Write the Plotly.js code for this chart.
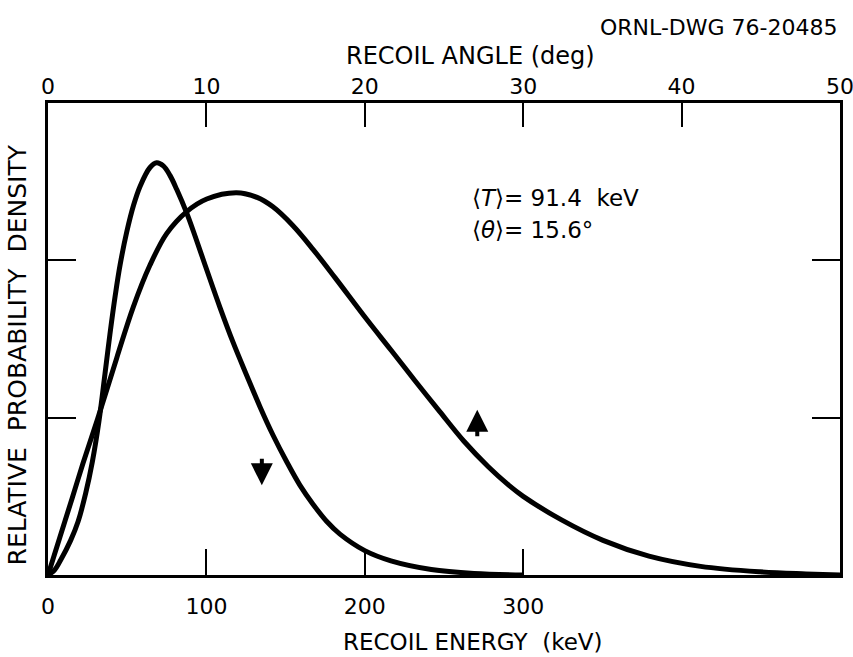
<!DOCTYPE html>
<html>
<head>
<meta charset="utf-8">
<script src="https://cdn.plot.ly/plotly-3.0.1.min.js"></script>
<style>
  html, body { margin: 0; padding: 0; background: #ffffff; }
  #chart { width: 853px; height: 657px; }
</style>
</head>
<body>
<div id="chart"></div>
<script>
// Recoil energy spectrum (keV) - the narrow curve, read against the bottom axis
const energyKeV = [0, 4, 8, 14.3, 19, 23.8, 28, 32.2, 36, 39.1, 42.5, 45.5, 49.7, 54, 58.1, 64.4,
  68.6, 72.8, 77, 81.3, 87.6, 93, 100.2, 108.6, 116.8, 125.4, 133.8, 142, 150.7, 159.1,
  167.3, 176, 184.3, 200, 216.5, 242, 269, 300];
const energyDensity = [0, 0.03, 0.095, 0.22, 0.34, 0.52, 0.72, 0.98, 1.28, 1.53, 1.78, 1.97, 2.18, 2.35, 2.47, 2.59,
  2.62, 2.60, 2.54, 2.45, 2.30, 2.15, 1.94, 1.70, 1.48, 1.27, 1.07, 0.89, 0.72, 0.57,
  0.45, 0.34, 0.26, 0.155, 0.09, 0.035, 0.01, 0];

// Recoil angle distribution (deg) - the broad curve, read against the top axis
const angleDeg = [0, 0.75, 1.53, 2.21, 3.22, 4.34, 5.37, 6.44, 7.49, 8.76, 10.02, 11.9, 13.2,
  14.2, 15.47, 16.73, 18.12, 20.08, 21.65, 23.17, 24.72, 26.26, 27.78, 29.1, 30.0, 32.42,
  35.04, 37.94, 41.2, 44.95, 47.85, 50];
const angleDensity = [0, 0.24, 0.49, 0.71, 1.02, 1.38, 1.70, 1.97, 2.17, 2.31, 2.39, 2.43, 2.40,
  2.34, 2.22, 2.07, 1.89, 1.63, 1.43, 1.235, 1.04, 0.85, 0.69, 0.57, 0.50, 0.35,
  0.22, 0.12, 0.055, 0.02, 0.007, 0];

// Axis ticks
const energyTicks = [0, 100, 200, 300];
const angleTicks = [0, 10, 20, 30, 40, 50];
const densityTicks = [1, 2];

const FONT = 'DejaVu Sans, Verdana, sans-serif';
const INK = '#000000';

const curveLine = { color: INK, width: 5, shape: 'spline', smoothing: 1 };

const traces = [
  { x: energyKeV, y: energyDensity, xaxis: 'x', yaxis: 'y',
    type: 'scatter', mode: 'lines', line: curveLine, hoverinfo: 'skip' },
  { x: angleDeg, y: angleDensity, xaxis: 'x2', yaxis: 'y',
    type: 'scatter', mode: 'lines', line: curveLine, hoverinfo: 'skip' }
];

const tickFont = { family: FONT, size: 22, color: INK };

const layout = {
  width: 853, height: 657,
  margin: { l: 48, r: 13, t: 103, b: 82 },
  paper_bgcolor: '#ffffff', plot_bgcolor: '#ffffff',
  showlegend: false,
  xaxis: {
    range: [0, 500], tickvals: energyTicks, ticktext: energyTicks.map(String),
    ticks: 'inside', ticklen: 26, tickwidth: 2, tickcolor: INK,
    showline: true, linewidth: 3, linecolor: INK, mirror: true,
    showgrid: false, zeroline: false, tickfont: tickFont, ticklabelstandoff: 10,
    ticklabeloverflow: 'allow'
  },
  xaxis2: {
    range: [0, 50], overlaying: 'x', side: 'top', anchor: 'y',
    tickvals: angleTicks, ticktext: angleTicks.map(String),
    ticks: 'inside', ticklen: 24, tickwidth: 2, tickcolor: INK,
    showline: false, showgrid: false, zeroline: false,
    tickfont: tickFont, ticklabelstandoff: 4, ticklabeloverflow: 'allow'
  },
  yaxis: {
    range: [0, 3], tickvals: densityTicks, showticklabels: false,
    ticks: 'inside', ticklen: 28, tickwidth: 2, tickcolor: INK,
    showline: true, linewidth: 3, linecolor: INK, mirror: 'ticks',
    showgrid: false, zeroline: false
  },
  annotations: [
    { text: 'RECOIL ENERGY  (keV)', xref: 'paper', yref: 'paper', x: 0.537, y: -0.143,
      xanchor: 'center', yanchor: 'middle', showarrow: false,
      font: { family: FONT, size: 23, color: INK } },
    { text: 'RECOIL ANGLE (deg)', xref: 'paper', yref: 'paper', x: 0.534, y: 1.1,
      xanchor: 'center', yanchor: 'middle', showarrow: false,
      font: { family: FONT, size: 24, color: INK } },
    { text: 'RELATIVE  PROBABILITY  DENSITY', xref: 'paper', yref: 'paper', x: -0.038, y: 0.467,
      xanchor: 'center', yanchor: 'middle', textangle: -90, showarrow: false,
      font: { family: FONT, size: 25, color: INK } },
    { text: 'ORNL-DWG 76-20485', xref: 'paper', yref: 'paper', x: 1.0, y: 1.16,
      xanchor: 'right', yanchor: 'middle', showarrow: false,
      font: { family: FONT, size: 22, color: INK } },
    { text: '⟨<i>T</i>⟩= 91.4  keV', xref: 'paper', yref: 'paper', x: 0.533, y: 0.799,
      xanchor: 'left', yanchor: 'middle', showarrow: false,
      font: { family: FONT, size: 23, color: INK } },
    { text: '⟨<i>θ</i>⟩= 15.6°', xref: 'paper', yref: 'paper', x: 0.533, y: 0.731,
      xanchor: 'left', yanchor: 'middle', showarrow: false,
      font: { family: FONT, size: 23, color: INK } },
    // arrows pointing each curve to the axis it is read against
    { text: '', xref: 'x', yref: 'y', x: 135, y: 0.57, ax: 0, ay: -28,
      showarrow: true, arrowhead: 2, arrowsize: 1.1, arrowwidth: 4, arrowcolor: INK },
    { text: '', xref: 'x2', yref: 'y', x: 27.1, y: 1.05, ax: 0, ay: 28,
      showarrow: true, arrowhead: 2, arrowsize: 1.1, arrowwidth: 4, arrowcolor: INK }
  ]
};

Plotly.newPlot('chart', traces, layout, { staticPlot: true, displayModeBar: false });
</script>
</body>
</html>
